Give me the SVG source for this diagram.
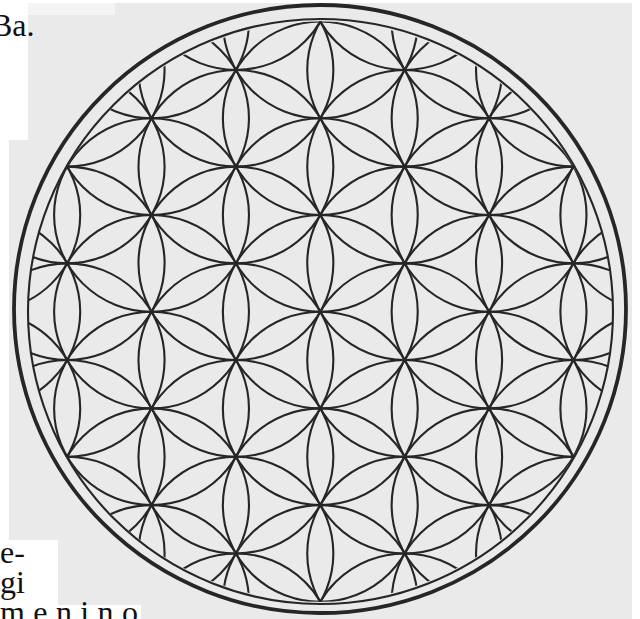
<svg xmlns="http://www.w3.org/2000/svg" width="640" height="619" viewBox="0 0 640 619">
<style>
.p{fill:none;stroke:#262626;stroke-width:2.1}
.t{font-family:"Liberation Serif","Times New Roman",serif;font-size:32px;fill:#111}
</style>
<defs>
<clipPath id="cl"><circle cx="0" cy="0" r="291"/></clipPath>
</defs>
<rect width="640" height="619" fill="#ffffff"/>
<g id="page">
<rect x="9" y="3" width="623" height="616" fill="#eaeaea"/>
<rect x="0" y="0" width="28" height="140" fill="#ffffff"/>
<rect x="0" y="0" width="115" height="3" fill="#ffffff"/>
<rect x="28" y="3" width="87" height="12" fill="#f4f4f4"/>
<rect x="0" y="540" width="58" height="79" fill="#ffffff"/>
<rect x="0" y="605" width="141" height="14" fill="#ffffff"/>
</g>
<g id="text">
<text class="t" x="-9" y="36">Ba.</text>
<text class="t" x="0" y="563">e-</text>
<text class="t" x="0" y="593">gi</text>
<text class="t" x="0" y="623" textLength="138">menino</text>
</g>
<g id="frame">
<ellipse cx="320" cy="309" rx="306" ry="304" fill="none" stroke="#262626" stroke-width="3.8"/>
<circle cx="320.5" cy="311.5" r="292.5" fill="none" stroke="#262626" stroke-width="2.1"/>
</g>
<g id="flower" transform="translate(320.3 311.7) scale(1.0045 0.997)">
<g clip-path="url(#cl)">
<circle class="p" cx="0" cy="-291" r="97"/>
<circle class="p" cx="0" cy="-194" r="97"/>
<circle class="p" cx="0" cy="-97" r="97"/>
<circle class="p" cx="0" cy="0" r="97"/>
<circle class="p" cx="0" cy="97" r="97"/>
<circle class="p" cx="0" cy="194" r="97"/>
<circle class="p" cx="0" cy="291" r="97"/>
<circle class="p" cx="84.004" cy="-339.5" r="97"/>
<circle class="p" cx="84.004" cy="-242.5" r="97"/>
<circle class="p" cx="84.004" cy="-145.5" r="97"/>
<circle class="p" cx="84.004" cy="-48.5" r="97"/>
<circle class="p" cx="84.004" cy="48.5" r="97"/>
<circle class="p" cx="84.004" cy="145.5" r="97"/>
<circle class="p" cx="84.004" cy="242.5" r="97"/>
<circle class="p" cx="84.004" cy="339.5" r="97"/>
<circle class="p" cx="-84.004" cy="-339.5" r="97"/>
<circle class="p" cx="-84.004" cy="-242.5" r="97"/>
<circle class="p" cx="-84.004" cy="-145.5" r="97"/>
<circle class="p" cx="-84.004" cy="-48.5" r="97"/>
<circle class="p" cx="-84.004" cy="48.5" r="97"/>
<circle class="p" cx="-84.004" cy="145.5" r="97"/>
<circle class="p" cx="-84.004" cy="242.5" r="97"/>
<circle class="p" cx="-84.004" cy="339.5" r="97"/>
<circle class="p" cx="168.009" cy="-291" r="97"/>
<circle class="p" cx="168.009" cy="-194" r="97"/>
<circle class="p" cx="168.009" cy="-97" r="97"/>
<circle class="p" cx="168.009" cy="0" r="97"/>
<circle class="p" cx="168.009" cy="97" r="97"/>
<circle class="p" cx="168.009" cy="194" r="97"/>
<circle class="p" cx="168.009" cy="291" r="97"/>
<circle class="p" cx="-168.009" cy="-291" r="97"/>
<circle class="p" cx="-168.009" cy="-194" r="97"/>
<circle class="p" cx="-168.009" cy="-97" r="97"/>
<circle class="p" cx="-168.009" cy="0" r="97"/>
<circle class="p" cx="-168.009" cy="97" r="97"/>
<circle class="p" cx="-168.009" cy="194" r="97"/>
<circle class="p" cx="-168.009" cy="291" r="97"/>
<circle class="p" cx="252.013" cy="-242.5" r="97"/>
<circle class="p" cx="252.013" cy="-145.5" r="97"/>
<circle class="p" cx="252.013" cy="-48.5" r="97"/>
<circle class="p" cx="252.013" cy="48.5" r="97"/>
<circle class="p" cx="252.013" cy="145.5" r="97"/>
<circle class="p" cx="252.013" cy="242.5" r="97"/>
<circle class="p" cx="-252.013" cy="-242.5" r="97"/>
<circle class="p" cx="-252.013" cy="-145.5" r="97"/>
<circle class="p" cx="-252.013" cy="-48.5" r="97"/>
<circle class="p" cx="-252.013" cy="48.5" r="97"/>
<circle class="p" cx="-252.013" cy="145.5" r="97"/>
<circle class="p" cx="-252.013" cy="242.5" r="97"/>
<circle class="p" cx="336.017" cy="-97" r="97"/>
<circle class="p" cx="336.017" cy="0" r="97"/>
<circle class="p" cx="336.017" cy="97" r="97"/>
<circle class="p" cx="-336.017" cy="-97" r="97"/>
<circle class="p" cx="-336.017" cy="0" r="97"/>
<circle class="p" cx="-336.017" cy="97" r="97"/>
</g>
</g>
</svg>
